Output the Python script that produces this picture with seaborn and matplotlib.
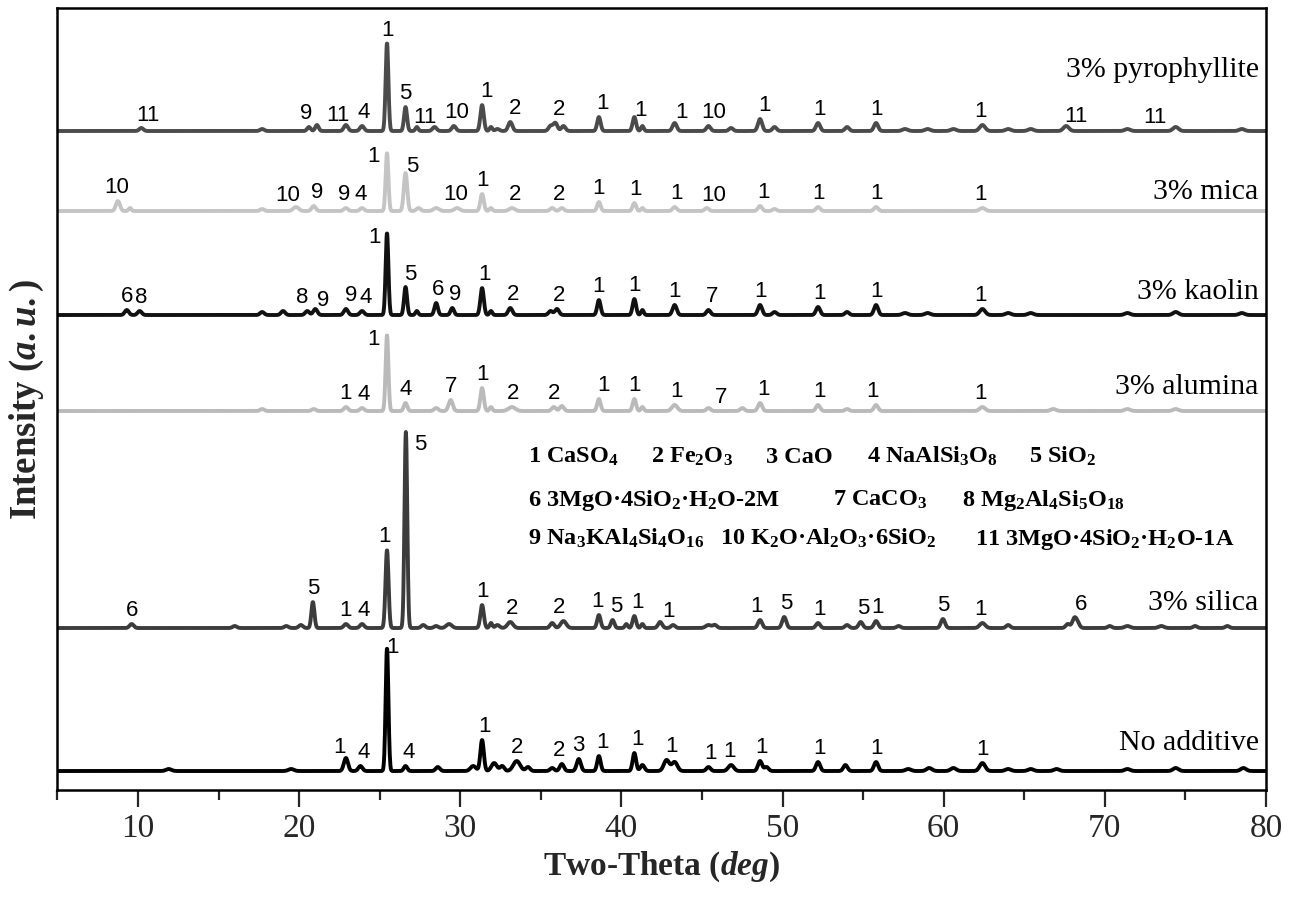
import numpy as np
import pandas as pd
import matplotlib
matplotlib.use("Agg")
import matplotlib.pyplot as plt
import seaborn as sns

# ---------------- data ----------------
samples = ["3% pyrophyllite", "3% mica", "3% kaolin", "3% alumina", "3% silica", "No additive"]
offsets = [659, 579, 475, 379, 162, 19]          # baseline of each trace (intensity units)
name_lift = [61, 19, 23, 24, 25, 28]             # sample name height above its baseline

pyro_pos = [10.2, 17.7, 20.6, 21.1, 22.9, 23.9, 25.45, 26.6, 27.3, 28.4, 29.6, 31.35, 31.9, 32.3, 33.1, 35.6, 35.9, 36.4,
            38.6, 40.8, 41.3, 43.3, 45.4, 46.8, 48.6, 49.5, 52.2, 54.0, 55.8, 57.6, 59.0, 60.6, 62.4, 64.0, 65.4, 67.6,
            71.4, 74.4, 78.5]
pyro_int = [3, 2, 4, 6, 6, 5, 88, 24, 4, 4, 5, 26, 4, 2, 9, 5, 8, 5,
            14, 14, 5, 8, 5, 3, 12, 4, 8, 4, 8, 2, 2, 2, 6, 2, 2, 5,
            2, 4, 2]
pyro_fwhm = [0.3, 0.3, 0.25, 0.25, 0.3, 0.3, 0.2, 0.22, 0.2, 0.3, 0.3, 0.25, 0.2, 0.3, 0.3, 0.3, 0.3, 0.3,
             0.25, 0.25, 0.2, 0.3, 0.3, 0.3, 0.3, 0.3, 0.3, 0.3, 0.3, 0.4, 0.4, 0.4, 0.4, 0.4, 0.4, 0.4,
             0.4, 0.4, 0.4]

mica_pos = [8.75, 9.5, 17.7, 19.8, 20.9, 22.9, 23.9, 25.45, 26.6, 27.4, 28.5, 29.8, 31.35, 31.9, 33.2, 35.7, 36.3,
            38.6, 40.8, 41.3, 43.3, 45.3, 48.6, 49.5, 52.2, 55.8, 62.4]
mica_int = [10, 3, 2, 4, 5, 3, 3, 58, 38, 3, 3, 3, 17, 3, 3, 3, 3,
            9, 8, 3, 4, 3, 5, 2, 4, 4, 3]
mica_fwhm = [0.3, 0.2, 0.3, 0.4, 0.3, 0.3, 0.3, 0.2, 0.25, 0.3, 0.4, 0.4, 0.25, 0.2, 0.4, 0.3, 0.3,
             0.25, 0.25, 0.2, 0.3, 0.3, 0.3, 0.3, 0.3, 0.3, 0.4]

kaol_pos = [9.3, 10.1, 17.7, 19.0, 20.5, 21.0, 22.9, 23.9, 25.45, 26.6, 27.3, 28.5, 29.5, 31.35, 31.9, 33.1, 35.6, 36.0,
            38.6, 40.8, 41.3, 43.3, 45.4, 48.6, 49.5, 52.2, 54.0, 55.8, 57.6, 59.0, 62.4, 64.0, 65.4, 71.4, 74.4, 78.5]
kaol_int = [5, 4, 3, 4, 4, 6, 6, 4, 82, 28, 4, 12, 7, 27, 4, 7, 4, 6,
            15, 16, 5, 10, 5, 10, 3, 8, 3, 10, 2, 2, 6, 2, 2, 2, 3, 2]
kaol_fwhm = [0.3, 0.3, 0.3, 0.3, 0.3, 0.3, 0.3, 0.3, 0.2, 0.22, 0.2, 0.25, 0.25, 0.25, 0.2, 0.3, 0.3, 0.3,
             0.25, 0.25, 0.2, 0.3, 0.3, 0.3, 0.3, 0.3, 0.3, 0.3, 0.4, 0.4, 0.4, 0.4, 0.4, 0.4, 0.4, 0.4]

alum_pos = [17.7, 20.9, 22.9, 23.9, 25.45, 26.6, 28.5, 29.4, 31.35, 31.9, 33.2, 35.8, 36.3, 38.6, 40.8, 41.3,
            43.3, 45.4, 47.5, 48.6, 52.2, 54.0, 55.8, 62.4, 66.8, 71.4, 74.4]
alum_int = [2, 2, 4, 3, 76, 8, 3, 11, 23, 4, 4, 4, 5, 12, 12, 4,
            6, 3, 3, 8, 6, 2, 6, 4, 2, 2, 2]
alum_fwhm = [0.3, 0.3, 0.3, 0.3, 0.2, 0.25, 0.3, 0.3, 0.25, 0.2, 0.5, 0.3, 0.3, 0.25, 0.25, 0.2,
             0.4, 0.3, 0.3, 0.3, 0.3, 0.3, 0.3, 0.4, 0.4, 0.4, 0.4]

sili_pos = [9.6, 16.0, 19.2, 20.1, 20.85, 22.9, 23.9, 25.45, 26.62, 27.7, 28.5, 29.3, 31.35, 31.9, 32.3, 33.1, 35.7,
            36.4, 38.6, 39.45, 40.3, 40.8, 41.3, 42.4, 43.2, 45.4, 45.8, 48.6, 50.1, 52.2, 54.0, 54.85, 55.8, 57.2,
            59.95, 62.4, 64.0, 67.7, 68.1, 68.3, 70.3, 71.4, 73.5, 75.6, 77.6]
sili_int = [4, 2, 2, 3, 26, 4, 4, 78, 196, 3, 2, 4, 23, 5, 3, 6, 5,
            7, 13, 8, 4, 12, 4, 6, 3, 3, 3, 8, 11, 5, 3, 6, 7, 2,
            9, 5, 3, 4, 9, 5, 2, 2, 2, 2, 2]
sili_fwhm = [0.3, 0.3, 0.3, 0.3, 0.22, 0.3, 0.3, 0.22, 0.2, 0.3, 0.3, 0.4, 0.25, 0.2, 0.3, 0.4, 0.3,
             0.4, 0.25, 0.25, 0.2, 0.25, 0.2, 0.3, 0.3, 0.4, 0.3, 0.3, 0.3, 0.3, 0.3, 0.3, 0.3, 0.3,
             0.3, 0.4, 0.3, 0.3, 0.3, 0.3, 0.3, 0.4, 0.4, 0.3, 0.3]

none_pos = [11.9, 19.5, 22.9, 23.8, 25.45, 26.6, 28.6, 30.8, 31.35, 32.1, 32.6, 33.5, 34.2, 35.7, 36.3, 37.35,
            38.6, 40.8, 41.3, 42.8, 43.3, 45.4, 46.8, 48.6, 49.0, 52.2, 53.9, 55.8, 57.8, 59.1, 60.6, 62.4,
            64.0, 65.4, 67.0, 71.4, 74.4, 78.6]
none_int = [2, 2, 13, 5, 123, 5, 4, 5, 31, 8, 5, 10, 4, 3, 7, 12,
            15, 18, 6, 11, 9, 4, 6, 10, 4, 9, 6, 9, 2, 3, 3, 8,
            2, 2, 2, 2, 3, 3]
none_fwhm = [0.4, 0.4, 0.3, 0.3, 0.2, 0.25, 0.3, 0.4, 0.25, 0.4, 0.3, 0.5, 0.3, 0.3, 0.3, 0.3,
             0.25, 0.25, 0.3, 0.4, 0.4, 0.3, 0.4, 0.3, 0.3, 0.3, 0.3, 0.3, 0.4, 0.4, 0.4, 0.4,
             0.4, 0.4, 0.4, 0.4, 0.4, 0.4]

# peak-phase labels: (2theta position, text); optional fixed height above baseline
pyro_lab = [(10.6, "11"), (20.4, "9"), (22.4, "11"), (24.0, "4"), (25.45, "1"), (26.6, "5"), (27.8, "11"),
            (29.8, "10"), (31.65, "1"), (33.4, "2"), (36.1, "2"), (38.85, "1"), (41.2, "1"), (43.7, "1"),
            (45.7, "10"), (48.9, "1"), (52.3, "1"), (55.8, "1"), (62.3, "1"), (68.2, "11"), (73.1, "11")]
mica_lab = [(8.7, "10"), (19.3, "10"), (21.1, "9"), (22.8, "9"), (23.8, "4"), (24.6, "1", 44), (27.0, "5", 34),
            (29.7, "10"), (31.4, "1"), (33.4, "2"), (36.1, "2"), (38.6, "1"), (40.9, "1"), (43.4, "1"),
            (45.7, "10"), (48.8, "1"), (52.2, "1"), (55.8, "1"), (62.3, "1")]
kaol_lab = [(9.3, "6"), (10.2, "8"), (20.2, "8"), (21.5, "9"), (23.2, "9"), (24.1, "4"), (24.7, "1", 67),
            (26.9, "5", 30), (28.6, "6"), (29.7, "9"), (31.5, "1"), (33.3, "2"), (36.1, "2"), (38.6, "1"),
            (40.8, "1"), (43.3, "1"), (45.6, "7"), (48.6, "1"), (52.3, "1"), (55.8, "1"), (62.3, "1")]
alum_lab = [(22.9, "1"), (24.0, "4"), (24.6, "1", 61), (26.6, "4"), (29.4, "7"), (31.4, "1"), (33.3, "2"),
            (35.8, "2"), (38.9, "1"), (40.8, "1"), (43.4, "1"), (46.2, "7"), (48.8, "1"), (52.3, "1"),
            (55.6, "1"), (62.3, "1")]
sili_lab = [(9.6, "6"), (20.9, "5"), (22.9, "1"), (24.0, "4"), (25.3, "1"), (27.5, "5", 173), (31.4, "1"),
            (33.2, "2"), (36.1, "2"), (38.5, "1"), (39.7, "5"), (41.0, "1"), (42.9, "1"), (48.4, "1"),
            (50.2, "5"), (52.3, "1"), (55.0, "5"), (55.9, "1"), (60.0, "5"), (62.3, "1"), (68.5, "6")]
none_lab = [(22.5, "1"), (24.0, "4"), (25.8, "1", 113), (26.8, "4"), (31.5, "1"), (33.5, "2"), (36.1, "2"),
            (37.3, "3"), (38.8, "1"), (41.0, "1"), (43.1, "1"), (45.5, "1"), (46.7, "1"), (48.7, "1"),
            (52.3, "1"), (55.8, "1"), (62.4, "1")]

legend_rows = [
    [(34.21, r"1 CaSO$_\mathbf{4}$"), (41.85, r"2 Fe$_\mathbf{2}$O$_\mathbf{3}$"), (48.99, "3 CaO"),
     (55.26, r"4 NaAlSi$_\mathbf{3}$O$_\mathbf{8}$"), (65.32, r"5 SiO$_\mathbf{2}$")],
    [(34.21, r"6 3MgO·4SiO$_\mathbf{2}$·H$_\mathbf{2}$O-2M"), (53.14, r"7 CaCO$_\mathbf{3}$"),
     (61.15, r"8 Mg$_\mathbf{2}$Al$_\mathbf{4}$Si$_\mathbf{5}$O$_\mathbf{18}$")],
    [(34.21, r"9 Na$_\mathbf{3}$KAl$_\mathbf{4}$Si$_\mathbf{4}$O$_\mathbf{16}$"),
     (46.13, r"10 K$_\mathbf{2}$O·Al$_\mathbf{2}$O$_\mathbf{3}$·6SiO$_\mathbf{2}$"),
     (61.96, r"11 3MgO·4SiO$_\mathbf{2}$·H$_\mathbf{2}$O-1A")],
]
legend_y = [327, 284, 245]

colors = ["#4b4b4b", "#c4c4c4", "#111111", "#bababa", "#3c3c3c", "#000000"]

# ---------------- build traces ----------------
two_theta = np.arange(5.0, 80.0001, 0.02)
peak_sets = [(pyro_pos, pyro_int, pyro_fwhm), (mica_pos, mica_int, mica_fwhm), (kaol_pos, kaol_int, kaol_fwhm),
             (alum_pos, alum_int, alum_fwhm), (sili_pos, sili_int, sili_fwhm), (none_pos, none_int, none_fwhm)]
labels_all = [pyro_lab, mica_lab, kaol_lab, alum_lab, sili_lab, none_lab]


def profile(pos, inten, fwhm):
    y = np.zeros_like(two_theta)
    for p, h, w in zip(pos, inten, fwhm):
        s = w / 2.3548
        y += h * np.exp(-0.5 * ((two_theta - p) / s) ** 2)
    return y


frames = []
curves = []
for name, off, (p, h, w) in zip(samples, offsets, peak_sets):
    y = profile(p, h, w)
    curves.append(y)
    frames.append(pd.DataFrame({"two_theta": two_theta, "intensity": y + off, "sample": name}))
df = pd.concat(frames, ignore_index=True)

# ---------------- plot ----------------
sns.set_theme(style="white")
plt.rcParams["font.family"] = ["Liberation Serif", "DejaVu Serif"]
plt.rcParams["mathtext.fontset"] = "custom"
plt.rcParams["mathtext.rm"] = "Liberation Serif:bold"
plt.rcParams["mathtext.bf"] = "Liberation Serif:bold"
plt.rcParams["mathtext.it"] = "Liberation Serif:bold:italic"

fig = plt.figure(figsize=(12.95, 9), dpi=100)
ax = fig.add_axes([0.0444, 0.1222, 0.9332, 0.8689])

sns.lineplot(data=df, x="two_theta", y="intensity", hue="sample", hue_order=samples,
             palette=dict(zip(samples, colors)), estimator=None, sort=False, legend=False,
             linewidth=2.8, ax=ax)

ax.set_xlim(5, 80)
ax.set_ylim(0, 782)

for off, y, labs in zip(offsets, curves, labels_all):
    for lab in labs:
        x, txt = lab[0], lab[1]
        if len(lab) > 2:
            yy = lab[2]
        else:
            m = (two_theta > x - 0.3) & (two_theta < x + 0.3)
            yy = y[m].max() + 3
        ax.text(x, off + yy, txt, ha="center", va="bottom", fontsize=16,
                family="Liberation Sans", color="black")

for name, off, lift in zip(samples, offsets, name_lift):
    ax.text(79.55, off + lift, name, ha="right", va="center", fontsize=21.5,
            family="Liberation Serif", color="black")

for row, yb in zip(legend_rows, legend_y):
    for x, txt in row:
        ax.text(x, yb, txt, ha="left", va="baseline", fontsize=17.5, fontweight="bold",
                family="Liberation Serif", color="black")

ax.set_xlabel(r"Two-Theta ($\mathit{deg}$)", fontsize=24, fontweight="bold", labelpad=4)
ax.set_ylabel(r"Intensity ($\mathit{a.u.}$)", fontsize=26.5, fontweight="bold", labelpad=8)
ax.set_yticks([])
ax.set_xticks(np.arange(10, 81, 10))
ax.set_xticks(np.arange(5, 81, 10), minor=True)
ax.tick_params(axis="x", which="major", direction="out", length=12, width=1.6, labelsize=24, pad=5,
               bottom=True, top=False)
ax.tick_params(axis="x", which="minor", direction="out", length=7, width=1.6, bottom=True, top=False)
for lab in ax.get_xticklabels():
    lab.set_family("Liberation Serif")
for sp in ax.spines.values():
    sp.set_visible(True)
    sp.set_color("black")
    sp.set_linewidth(1.8)

fig.savefig("out.png", dpi=100, facecolor="white")
